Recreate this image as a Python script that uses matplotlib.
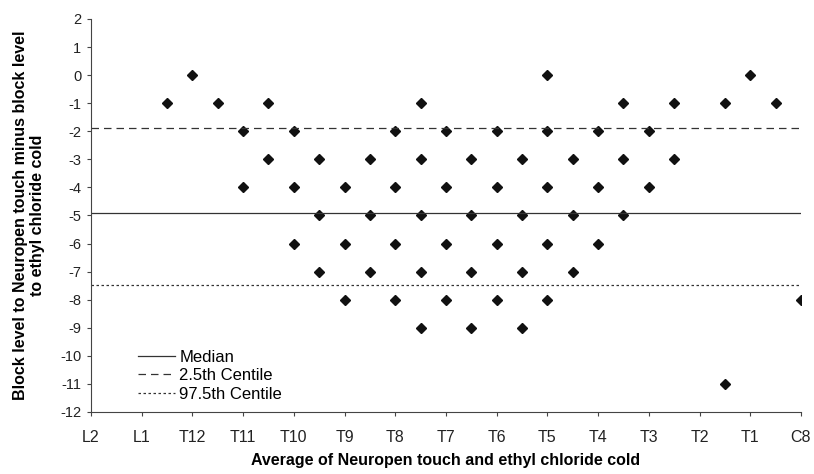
import matplotlib.pyplot as plt

plt.rcParams['font.family'] = ['Liberation Sans', 'DejaVu Sans']
plt.rcParams['axes.unicode_minus'] = False

levels = ['L2', 'L1', 'T12', 'T11', 'T10', 'T9', 'T8', 'T7', 'T6', 'T5', 'T4', 'T3', 'T2', 'T1', 'C8']

# x = average level index (L2 = 0 ... C8 = 14), y = difference in levels
avg_level = [1.5, 2, 2.5, 3, 3, 3.5, 3.5,
             4, 4, 4, 4.5, 4.5, 4.5,
             5, 5, 5, 5.5, 5.5, 5.5,
             6, 6, 6, 6, 6.5, 6.5, 6.5, 6.5, 6.5,
             7, 7, 7, 7, 7.5, 7.5, 7.5, 7.5,
             8, 8, 8, 8, 8.5, 8.5, 8.5, 8.5,
             9, 9, 9, 9, 9, 9.5, 9.5, 9.5,
             10, 10, 10, 10.5, 10.5, 10.5,
             11, 11, 11.5, 11.5, 12.5, 12.5, 13, 13.5, 14]
difference = [-1, 0, -1, -2, -4, -1, -3,
              -2, -4, -6, -3, -5, -7,
              -4, -6, -8, -3, -5, -7,
              -2, -4, -6, -8, -1, -3, -5, -7, -9,
              -2, -4, -6, -8, -3, -5, -7, -9,
              -2, -4, -6, -8, -3, -5, -7, -9,
              0, -2, -4, -6, -8, -3, -5, -7,
              -2, -4, -6, -1, -3, -5,
              -2, -4, -1, -3, -1, -11, 0, -1, -8]

median = -4.93
centile_2_5 = -1.89
centile_97_5 = -7.48

fig = plt.figure(figsize=(8.14, 4.74), dpi=100)
ax = fig.add_axes([0.1118, 0.131, 0.8722, 0.829])

ax.plot(avg_level, difference, 'D', color='#111111', markersize=5.5, linestyle='none')
ax.axhline(median, color='#333333', linewidth=0.9, label='Median')
ax.axhline(centile_2_5, color='#333333', linewidth=0.9, linestyle=(0, (6, 4)), label='2.5th Centile')
ax.axhline(centile_97_5, color='#333333', linewidth=0.9, linestyle=(0, (2, 2)), label='97.5th Centile')

ax.set_xlim(0, 14)
ax.set_ylim(-12, 2)
ax.set_xticks(range(len(levels)))
ax.set_xticklabels(levels)
ax.set_yticks(range(-12, 3))
ax.tick_params(direction='out', length=3, color='#444444', colors='#222222')
ax.tick_params(axis='x', labelsize=11.5, pad=10)
ax.tick_params(axis='y', labelsize=10.5, pad=4)
for side in ['top', 'right']:
    ax.spines[side].set_visible(False)
for side in ['left', 'bottom']:
    ax.spines[side].set_color('#444444')

ax.set_xlabel('Average of Neuropen touch and ethyl chloride cold', fontsize=11.5, fontweight='bold')
ax.set_ylabel('Block level to Neuropen touch minus block level\nto ethyl chloride cold', fontsize=11.5,
              fontweight='bold', linespacing=1.15)
ax.xaxis.set_label_coords(0.5, -0.104)
ax.yaxis.set_label_coords(-0.065, 0.5)

ax.legend(loc='lower left', bbox_to_anchor=(0.055, 0.005), frameon=False, fontsize=12,
          handlelength=2.2, handletextpad=0.25, labelspacing=0.2, borderpad=0)

fig.savefig('out.png', dpi=100)
